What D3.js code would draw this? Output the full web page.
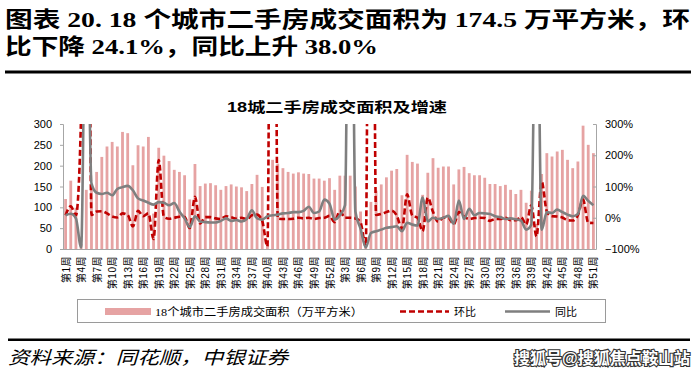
<!DOCTYPE html>
<html><head><meta charset="utf-8">
<script src="https://cdn.jsdelivr.net/npm/d3@7/dist/d3.min.js"></script>
<style>
html,body{margin:0;padding:0;background:#fff;}
svg{display:block;}
</style></head>
<body>
<svg id="c" width="696" height="381"></svg>
<script>
// ---- data ----
const categories = [];
for (let w = 1; w <= 52; w++) categories.push("第" + w + "周");
for (let w = 1; w <= 51; w++) categories.push("第" + w + "周");

const area = [
  120,164,99,12,142,155,185,221,246,257,
  246,281,278,201,249,246,269,85,243,224,
  211,190,185,177,119,204,151,157,158,153,
  142,151,155,150,148,139,156,178,149,10,
  214,205,194,185,181,184,181,180,169,169,
  164,170,
  142,176,176,176,150,90,10,113,140,155,
  172,188,192,129,226,209,205,130,183,218,
  195,198,198,155,191,197,182,177,177,171,
  156,156,151,154,142,132,142,111,140,60,
  180,230,222,234,238,214,194,210,296,250,
  230
];
const mom = [
  8,37,8,330,2500,9,20,21,14,4,
  1,14,9,-28,22,5,14,-68,185,3,
  -3,0,3,2,-33,67,-18,2,2,-2,
  -4,5,2,-3,0,-5,8,10,-10,-92,
  2500,-2,-4,-4,-3,0,-2,0,-4,-1,
  0,6,
  -14,22,0,0,-2,-15,-92,2500,9,12,
  18,23,7,-36,75,7,0,-43,64,19,
  -13,0,-1,-21,18,4,-4,-1,0,-1,
  -10,-4,-4,0,-8,-8,2,-22,40,-60,
  116,20,5,4,1,-8,-9,8,58,-16,
  -17
];
const yoy = [
  8,13,-2,-95,900,110,80,76,80,72,
  92,98,102,88,62,55,48,42,50,48,
  40,47,20,-2,-30,5,-12,-14,-15,-15,
  -10,-2,-10,-7,-12,-4,24,-2,-6,5,
  8,10,14,15,18,18,22,35,15,20,
  58,45,
  -6,8,40,1500,20,-35,-95,-49,-43,-38,
  -32,-30,-27,-43,-16,-22,-25,65,-12,0,
  -4,0,6,-19,55,-4,29,8,15,14,
  12,5,2,-4,-2,-5,-9,-38,-22,950,
  -38,18,15,26,18,10,5,12,70,54,
  40
];
const leftTicks = [0,50,100,150,200,250,300];
const rightTicks = [-100,0,100,200,300];
const legendLabels = ["18个城市二手房成交面积（万平方米）","环比","同比"];

// ---- layout ----
const svg = d3.select("#c");
const L = 63, R = 596, T = 124, B = 249;
const idx = d3.range(categories.length);
const x = d3.scalePoint().domain(idx).range([L, R]).padding(0.5);
const yL = d3.scaleLinear().domain([0, 300]).range([B, T]);
const yR = d3.scaleLinear().domain([-100, 300]).range([B, T]);

const CJK = "'Liberation Serif','Noto Sans CJK SC',serif";
const SANS = "'Liberation Sans','Noto Sans CJK SC',sans-serif";

// Title
svg.append("text").attr("x", 5).attr("y", 27)
  .attr("font-family", CJK).attr("font-weight", "bold").attr("font-size", 22)
  .attr("fill", "#000").attr("textLength", 685).attr("lengthAdjust", "spacingAndGlyphs")
  .text("图表 20. 18 个城市二手房成交面积为 174.5 万平方米，环");
svg.append("text").attr("x", 5).attr("y", 54)
  .attr("font-family", CJK).attr("font-weight", "bold").attr("font-size", 22)
  .attr("fill", "#000").attr("textLength", 373).attr("lengthAdjust", "spacingAndGlyphs")
  .text("比下降 24.1%，同比上升 38.0%");
svg.append("rect").attr("x", 5).attr("y", 70.5).attr("width", 686).attr("height", 3).attr("fill", "#000");

// chart title
svg.append("text").attr("x", 337).attr("y", 112).attr("text-anchor", "middle")
  .attr("font-family", SANS).attr("font-weight", "bold").attr("font-size", 14)
  .attr("textLength", 220).attr("lengthAdjust", "spacingAndGlyphs")
  .text("18城二手房成交面积及增速");

// bars
const bw = 2.8;
svg.append("g").selectAll("rect").data(area).join("rect")
  .attr("x", (d, i) => x(i) - bw / 2)
  .attr("y", d => yL(d))
  .attr("width", bw)
  .attr("height", d => B - yL(d))
  .attr("fill", "#e6a3a3");

// axes
const gL = svg.append("g").attr("transform", `translate(${L},0)`)
  .call(d3.axisLeft(yL).tickValues(leftTicks).tickSize(3).tickPadding(8));
const gR = svg.append("g").attr("transform", `translate(${R},0)`)
  .call(d3.axisRight(yR).tickValues(rightTicks).tickSize(-3).tickPadding(9)
    .tickFormat(d => (d < 0 ? "−" + Math.abs(d) : d) + "%"));
const gX = svg.append("g").attr("transform", `translate(0,${B})`)
  .call(d3.axisBottom(x).tickValues(idx.filter(i => i % 3 === 0)).tickSize(0)
    .tickFormat(i => categories[i]));
[gL, gR, gX].forEach(g => {
  g.selectAll("path.domain").attr("stroke", "#a6a6a6").attr("stroke-width", 1);
  g.selectAll(".tick line").attr("stroke", "#a6a6a6");
  g.selectAll("text").attr("fill", "#000").attr("font-family", SANS).attr("font-size", 11);
});
gX.select("path.domain").attr("d", `M${L},0.5H${R}`);
gX.selectAll("text")
  .attr("font-size", 10)
  .attr("transform", "rotate(-90)")
  .attr("text-anchor", "end")
  .attr("dx", "-7")
  .attr("dy", "0.35em")
  .attr("y", 0)
  .attr("letter-spacing", "0.5");

// lines
svg.append("clipPath").attr("id", "pc").append("rect")
  .attr("x", L).attr("y", T).attr("width", R - L).attr("height", B - T + 1);
const lineGen = d3.line().x((d, i) => x(i)).y(d => yR(d)).curve(d3.curveMonotoneX);
const g = svg.append("g").attr("clip-path", "url(#pc)");
g.append("path").datum(mom).attr("d", lineGen)
  .attr("fill", "none").attr("stroke", "#c00000").attr("stroke-width", 2.6)
  .attr("stroke-dasharray", "6,3");
g.append("path").datum(yoy).attr("d", lineGen)
  .attr("fill", "none").attr("stroke", "#7f7f7f").attr("stroke-width", 2.6);

// legend
const lg = svg.append("g");
lg.append("rect").attr("x", 77.5).attr("y", 299.5).attr("width", 528).attr("height", 23)
  .attr("fill", "#fff").attr("stroke", "#9a9a9a").attr("stroke-width", 1);
lg.append("rect").attr("x", 105).attr("y", 308).attr("width", 46).attr("height", 7).attr("fill", "#e6a3a3");
lg.append("text").attr("x", 155).attr("y", 316).attr("font-family", CJK).attr("font-size", 11)
  .attr("textLength", 208).attr("lengthAdjust", "spacingAndGlyphs").text(legendLabels[0]);
lg.append("line").attr("x1", 400).attr("x2", 449).attr("y1", 311.5).attr("y2", 311.5)
  .attr("stroke", "#c00000").attr("stroke-width", 2.6).attr("stroke-dasharray", "6,3");
lg.append("text").attr("x", 454).attr("y", 316).attr("font-family", CJK).attr("font-size", 11).text(legendLabels[1]);
lg.append("line").attr("x1", 505).attr("x2", 550).attr("y1", 311.5).attr("y2", 311.5)
  .attr("stroke", "#7f7f7f").attr("stroke-width", 2.6);
lg.append("text").attr("x", 555).attr("y", 316).attr("font-family", CJK).attr("font-size", 11).text(legendLabels[2]);

// footer
svg.append("rect").attr("x", 8).attr("y", 338.5).attr("width", 682).attr("height", 2.5).attr("fill", "#000");
svg.append("text").attr("x", 8).attr("y", 364).attr("font-family", CJK).attr("font-style", "italic")
  .attr("font-size", 18).attr("textLength", 280).attr("lengthAdjust", "spacingAndGlyphs")
  .text("资料来源：同花顺，中银证券");
svg.append("text").attr("x", 690).attr("y", 364).attr("text-anchor", "end")
  .attr("font-family", SANS).attr("font-weight", "bold").attr("font-size", 16)
  .attr("fill", "#fff").attr("stroke", "#333").attr("stroke-width", 2.2).attr("paint-order", "stroke")
  .attr("textLength", 176).attr("lengthAdjust", "spacingAndGlyphs")
  .text("搜狐号@搜狐焦点鞍山站");
</script>
</body></html>
